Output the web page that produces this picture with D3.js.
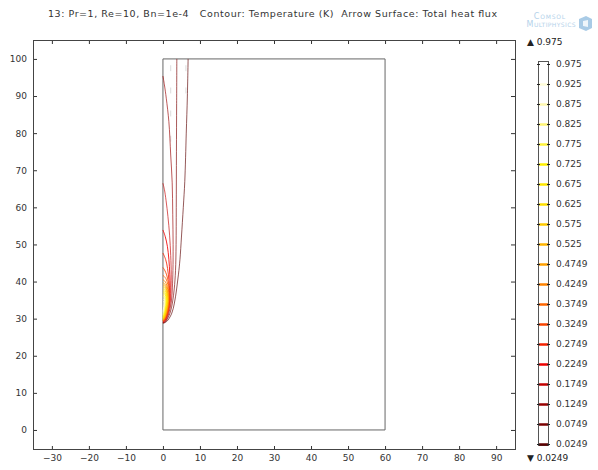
<!DOCTYPE html>
<html>
<head>
<meta charset="utf-8">
<script src="https://cdn.jsdelivr.net/npm/d3@7"></script>
<style>
  body { margin: 0; background: #fff; }
  svg { display: block; font-family: "DejaVu Sans", sans-serif; }
</style>
</head>
<body>
<svg id="chart" width="598" height="470"></svg>
<script>
// contour levels (low -> high), as in the legend
const levels = [0.0249, 0.0749, 0.1249, 0.1749, 0.2249, 0.2749, 0.3249, 0.3749, 0.4249, 0.4749,
                0.525, 0.575, 0.625, 0.675, 0.725, 0.775, 0.825, 0.875, 0.925, 0.975];
const levelLabels = ["0.0249", "0.0749", "0.1249", "0.1749", "0.2249", "0.2749", "0.3249", "0.3749", "0.4249", "0.4749",
                     "0.525", "0.575", "0.625", "0.675", "0.725", "0.775", "0.825", "0.875", "0.925", "0.975"];
const xTicks = [-30, -20, -10, 0, 10, 20, 30, 40, 50, 60, 70, 80, 90];
const yTicks = [0, 10, 20, 30, 40, 50, 60, 70, 80, 90, 100];
const domainBox = [[0, 0], [60, 0], [60, 100], [0, 100], [0, 0]];
const titleText = "13: Pr=1, Re=10, Bn=1e-4   Contour: Temperature (K)  Arrow Surface: Total heat flux";

// contour lines, one per level, [x, y]
const contourLines = [
  [[0,28.8],[0.6,28.95],[1.35,29.6],[2.4,31.5],[3.1,34.2],[3.7,38],[4.2,42],[4.6,46],[5.0,52],[5.5,60],[5.9,67],[6.3,80],[6.6,90],[6.8,100]],
  [[0,28.85],[0.55,29.05],[1.2,29.9],[2.0,31.8],[2.6,34.5],[3.05,38],[3.4,43],[3.55,50],[3.6,60],[3.65,75],[3.7,88],[3.75,100]],
  [[0,28.9],[0.5,29.15],[1.1,30.1],[1.75,32],[2.3,34.8],[2.55,38.5],[2.7,43],[2.75,50],[2.65,58],[2.5,66.6],[2.1,74.1],[1.6,83.1],[0.9,89.4],[0.4,93],[0,95.4]],
  [[0,29.0],[0.5,29.3],[1.0,30.3],[1.6,32.2],[2.05,35],[2.2,38.5],[2.25,42],[2.1,47],[1.8,52.5],[1.35,57.5],[0.85,61.8],[0.4,64.8],[0,66.5]],
  [[0,29.1],[0.5,29.5],[0.95,30.5],[1.45,32.4],[1.85,35],[1.95,38.5],[1.85,42],[1.6,46],[1.2,49.5],[0.6,52.2],[0,53.9]],
  [[0,29.2],[0.5,29.65],[0.95,30.65],[1.4,32.4],[1.75,34.7],[1.8,37.5],[1.6,40.5],[1.25,43.5],[0.75,45.9],[0,47.7]],
  [[0,29.3],[0.5,29.8],[1.0,30.8],[1.45,32.4],[1.7,34.5],[1.7,37],[1.5,39.5],[1.0,41.8],[0.45,43.1],[0,43.8]],
  [[0,29.4],[0.45,29.9],[0.95,31],[1.35,32.6],[1.6,34.6],[1.55,37],[1.3,39.2],[0.8,40.8],[0,41.7]],
  [[0,29.5],[0.42,30.05],[0.88,31.2],[1.25,32.8],[1.5,34.7],[1.42,36.9],[1.1,38.8],[0.6,40],[0,40.5]],
  [[0,29.6],[0.4,30.2],[0.82,31.4],[1.17,33],[1.4,34.8],[1.3,36.8],[0.95,38.5],[0.45,39.4],[0,39.7]],
  [[0,29.75],[0.37,30.35],[0.76,31.6],[1.08,33.1],[1.3,34.8],[1.2,36.7],[0.85,38.2],[0.4,38.9],[0,39.1]],
  [[0,29.9],[0.34,30.5],[0.7,31.75],[1.0,33.2],[1.2,34.8],[1.1,36.6],[0.75,37.9],[0.35,38.4],[0,38.6]],
  [[0,30.05],[0.3,30.7],[0.64,31.9],[0.92,33.3],[1.1,34.8],[1.0,36.4],[0.65,37.5],[0.3,37.9],[0,38.0]],
  [[0,30.2],[0.28,30.85],[0.58,32.05],[0.84,33.4],[1.0,34.8],[0.9,36.2],[0.55,37.1],[0,37.5]],
  [[0,30.4],[0.25,31.05],[0.52,32.2],[0.75,33.5],[0.9,34.8],[0.8,36],[0.45,36.7],[0,37]],
  [[0,30.7],[0.22,31.35],[0.45,32.4],[0.64,33.6],[0.75,34.8],[0.62,35.8],[0.3,36.25],[0,36.4]],
  [[0,31.0],[0.18,31.6],[0.37,32.6],[0.52,33.7],[0.6,34.7],[0.48,35.5],[0.2,35.85],[0,35.9]],
  [[0,31.4],[0.15,32],[0.3,32.9],[0.4,33.8],[0.45,34.6],[0.3,35.1],[0,35.3]],
  [[0,31.9],[0.12,32.5],[0.22,33.3],[0.3,34],[0.2,34.6],[0,34.8]],
  []
];

// faint heat flux arrows that are big enough to see: [x, y]
const arrows = [[2.1, 97.5], [2.1, 91.5], [2.1, 85.3], [2.1, 78.5], [6.2, 97.5], [6.2, 91.5]];

const svg = d3.select("#chart");
const margin = {top: 40, right: 83, bottom: 20, left: 33};
const W = 598, H = 470;

const x = d3.scaleLinear().domain([-35.1, 95.1]).range([margin.left, W - margin.right]);
const y = d3.scaleLinear().domain([-5.4, 105.1]).range([H - margin.bottom, margin.top]);

const color = d3.scaleLinear()
    .domain([0.0249, 0.1249, 0.2249, 0.3749, 0.4749, 0.625, 0.725, 0.875, 0.975])
    .range(["#5c0000", "#990000", "#ee0000", "#ff6600", "#ffa000", "#ffe000", "#fff000", "#fff8b0", "#ffffff"]);

// title
svg.append("text")
    .attr("x", 48).attr("y", 17)
    .attr("font-size", 9.5).attr("fill", "#333")
    .attr("textLength", 449).attr("lengthAdjust", "spacing")
    .style("white-space", "pre")
    .text(titleText);

// logo
const logo = svg.append("g").attr("fill", "#b3d2ea").attr("font-size", 8)
    .style("font-variant", "small-caps").attr("text-anchor", "end");
logo.append("text").attr("x", 566).attr("y", 19).attr("letter-spacing", 0.8).text("Comsol");
logo.append("text").attr("x", 576).attr("y", 27).attr("letter-spacing", 0.4).text("Multiphysics");
logo.append("path").attr("d", "M579,19 L586,16 L592,19 L592,28 L586,31 L579,28 Z").attr("fill", "#a9cbe6");
logo.append("path").attr("d", "M583,21 L588,20 L588,27 L583,26 Z").attr("fill", "#fff").attr("opacity", 0.8);

// plot frame
const plotArea = svg.append("g");
plotArea.append("rect")
    .attr("x", margin.left).attr("y", margin.top)
    .attr("width", W - margin.right - margin.left).attr("height", H - margin.bottom - margin.top)
    .attr("fill", "#fff");

const line = d3.line().x(d => x(d[0])).y(d => y(d[1]));
const smooth = d3.line().curve(d3.curveCatmullRom.alpha(0.5)).x(d => x(d[0])).y(d => y(d[1]));

// arrows
plotArea.selectAll(".arrow").data(arrows).join("path")
    .attr("class", "arrow")
    .attr("d", d => line([[d[0], d[1] - 0.8], [d[0], d[1] + 0.8]]))
    .attr("stroke", "#dcdcdc").attr("stroke-width", 1).attr("fill", "none");

// geometry outline
plotArea.append("path").datum(domainBox)
    .attr("d", line)
    .attr("fill", "none").attr("stroke", "#666").attr("stroke-width", 1);

// contours
plotArea.selectAll(".contour").data(contourLines.map((pts, i) => ({pts, level: levels[i]})).filter(d => d.pts.length))
    .join("path")
    .attr("class", "contour")
    .attr("d", d => smooth(d.pts))
    .attr("fill", "none")
    .attr("stroke", d => color(d.level))
    .attr("stroke-opacity", d => d.level < 0.2 ? 0.65 : 0.85)
    .attr("stroke-width", 1);

// axes
const axisStyle = g => {
  g.selectAll(".domain").remove();
  g.selectAll(".tick line").attr("stroke", "#333");
  g.selectAll(".tick text").attr("fill", "#333").attr("font-size", 9).attr("font-family", "DejaVu Sans, sans-serif");
};
svg.append("g").attr("transform", `translate(0,${H - margin.bottom})`)
    .call(d3.axisBottom(x).tickValues(xTicks).tickSize(-4).tickPadding(5).tickFormat(d3.format("d")))
    .call(axisStyle);
svg.append("g").attr("transform", `translate(0,${margin.top})`)
    .call(d3.axisTop(x).tickValues(xTicks).tickSize(-4).tickFormat(""))
    .call(axisStyle);
svg.append("g").attr("transform", `translate(${margin.left},0)`)
    .call(d3.axisLeft(y).tickValues(yTicks).tickSize(-4).tickPadding(6).tickFormat(d3.format("d")))
    .call(axisStyle);
svg.append("g").attr("transform", `translate(${W - margin.right},0)`)
    .call(d3.axisRight(y).tickValues(yTicks).tickSize(-4).tickFormat(""))
    .call(axisStyle);

svg.append("rect")
    .attr("x", margin.left + 0.5).attr("y", margin.top + 0.5)
    .attr("width", W - margin.right - margin.left).attr("height", H - margin.bottom - margin.top - 1)
    .attr("fill", "none").attr("stroke", "#444").attr("stroke-width", 1);

// legend
const ly = d3.scaleLinear().domain([0.0249, 0.975]).range([444, 64]);
const legend = svg.append("g");
const lx0 = 538, lx1 = 548;
legend.append("rect")
    .attr("x", lx0 + 0.5).attr("y", ly(0.975) - 2.5)
    .attr("width", lx1 - lx0).attr("height", ly(0.0249) - ly(0.975) + 4)
    .attr("fill", "#fff").attr("stroke", "#555").attr("stroke-width", 1);
legend.selectAll(".lvl").data(levels).join("line")
    .attr("class", "lvl")
    .attr("x1", lx0 + 1).attr("x2", lx1)
    .attr("y1", d => Math.round(ly(d)) + 0.5).attr("y2", d => Math.round(ly(d)) + 0.5)
    .attr("stroke", d => color(d)).attr("stroke-width", 2.5);
legend.selectAll(".tkl").data(levels).join("line")
    .attr("class", "tkl")
    .attr("x1", lx0 - 1).attr("x2", lx0 + 2)
    .attr("y1", d => Math.round(ly(d)) + 0.5).attr("y2", d => Math.round(ly(d)) + 0.5)
    .attr("stroke", "#222");
legend.selectAll(".tkr").data(levels).join("line")
    .attr("class", "tkr")
    .attr("x1", lx1 - 1).attr("x2", lx1 + 2)
    .attr("y1", d => Math.round(ly(d)) + 0.5).attr("y2", d => Math.round(ly(d)) + 0.5)
    .attr("stroke", "#222");
legend.selectAll(".lbl").data(levels).join("text")
    .attr("class", "lbl")
    .attr("x", 556).attr("y", d => ly(d)).attr("dy", "0.35em")
    .attr("font-size", 9).attr("fill", "#333")
    .text((d, i) => levelLabels[i]);

legend.append("text").attr("x", 527).attr("y", 45).attr("font-size", 9).attr("fill", "#222")
    .text("\u25B2 " + levelLabels[levelLabels.length - 1]);
legend.append("text").attr("x", 527).attr("y", 461).attr("font-size", 9).attr("fill", "#222")
    .text("\u25BC " + levelLabels[0]);
</script>
</body>
</html>
